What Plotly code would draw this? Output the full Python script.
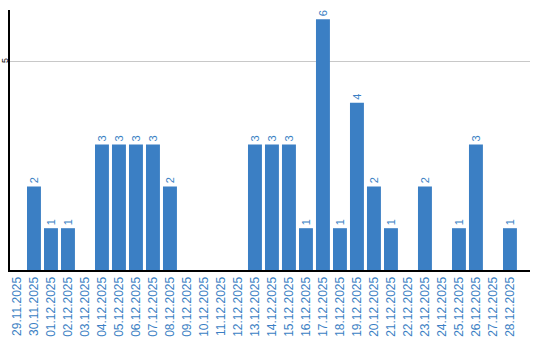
import plotly.graph_objects as go

dates = ["29.11.2025", "30.11.2025", "01.12.2025", "02.12.2025", "03.12.2025",
         "04.12.2025", "05.12.2025", "06.12.2025", "07.12.2025", "08.12.2025",
         "09.12.2025", "10.12.2025", "11.12.2025", "12.12.2025", "13.12.2025",
         "14.12.2025", "15.12.2025", "16.12.2025", "17.12.2025", "18.12.2025",
         "19.12.2025", "20.12.2025", "21.12.2025", "22.12.2025", "23.12.2025",
         "24.12.2025", "25.12.2025", "26.12.2025", "27.12.2025", "28.12.2025"]
counts = [0, 2, 1, 1, 0, 3, 3, 3, 3, 2, 0, 0, 0, 0, 3,
          3, 3, 1, 6, 1, 4, 2, 1, 0, 2, 0, 1, 3, 0, 1]
y_ticks = [5]

blue = "#3b7fc4"

fig = go.Figure(go.Bar(
    x=dates, y=counts, marker_color=blue, marker_line_width=0,
))

for d, v in zip(dates, counts):
    if v > 0:
        fig.add_annotation(
            x=d, y=v, text=str(v), textangle=-90, showarrow=False,
            yanchor="bottom", yshift=2, borderpad=0,
            font=dict(color=blue, size=11, family="Liberation Sans"),
        )

for t in y_ticks:
    fig.add_annotation(
        xref="paper", x=0, y=t, text=str(t), textangle=-90, showarrow=False,
        xanchor="center", yanchor="middle", xshift=-5, borderpad=0,
        font=dict(color="black", size=9, family="Liberation Sans"),
    )

fig.update_layout(
    width=540, height=340,
    margin=dict(l=10, r=10, t=10, b=70),
    plot_bgcolor="white", paper_bgcolor="white",
    showlegend=False, bargap=0.18,
    font=dict(family="Liberation Sans"),
)
fig.update_xaxes(
    type="category", range=[-0.41, 30.18],
    showline=True, linecolor="black", linewidth=2,
    showgrid=False, ticks="", tickangle=-90, automargin=False,
    tickfont=dict(color=blue, size=12, family="Liberation Sans"),
)
fig.update_yaxes(
    range=[0, 6.22], tickvals=y_ticks, showticklabels=False,
    showline=True, linecolor="black", linewidth=2,
    showgrid=True, gridcolor="#c8c8c8", gridwidth=1,
    zeroline=False, ticks="", automargin=False,
)

fig.write_html("out.html")
